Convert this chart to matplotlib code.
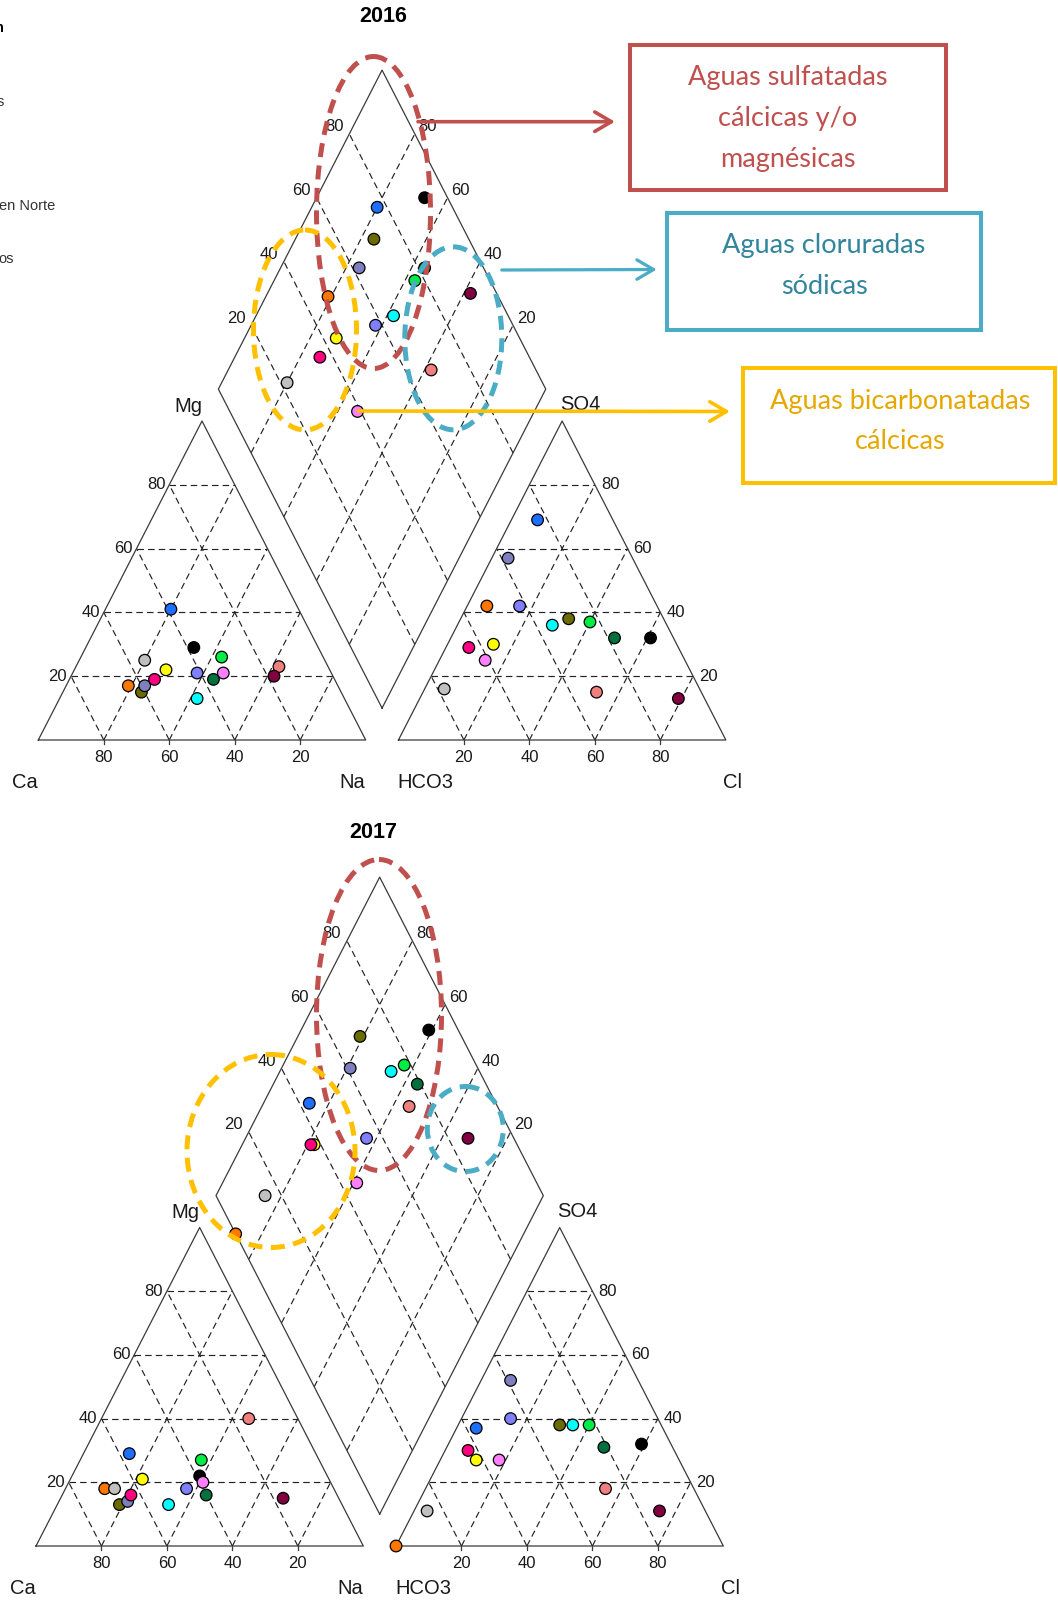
import numpy as np
import matplotlib.pyplot as plt
from matplotlib.patches import Ellipse, Rectangle

# Colores de cada punto de muestreo (mismo orden en todas las listas)
colores = ['#1e6fff', '#000000', '#6b6b00', '#7f7fbf', '#ff7700', '#00ee44', '#00703c',
           '#00ffff', '#7f7fff', '#ffff00', '#ff0080', '#f08080', '#ff80ff', '#c0c0c0', '#800040']

# 2016 - cationes (% meq)
ca_2016 = [39, 38, 61, 59, 64, 31, 37, 45, 41, 50, 55, 15, 33, 55, 18]
mg_2016 = [41, 29, 15, 17, 17, 26, 19, 13, 21, 22, 19, 23, 21, 25, 20]
na_2016 = [20, 33, 24, 24, 19, 43, 44, 42, 38, 28, 26, 62, 46, 20, 62]
# 2016 - aniones (% meq)
hco3_2016 = [23, 7, 29, 38, 52, 23, 18, 35, 42, 56, 64, 32, 61, 78, 8]
so4_2016 = [69, 32, 38, 57, 42, 37, 32, 36, 42, 30, 29, 15, 25, 16, 13]
cl_2016 = [8, 61, 33, 5, 6, 40, 50, 29, 16, 14, 7, 53, 14, 6, 79]

# 2017 - cationes (% meq)
ca_2017 = [57, 39, 68, 65, 70, 36, 40, 53, 45, 57, 63, 15, 39, 67, 17]
mg_2017 = [29, 22, 13, 14, 18, 27, 16, 13, 18, 21, 16, 40, 20, 18, 15]
na_2017 = [14, 39, 19, 21, 12, 37, 44, 34, 37, 22, 21, 45, 41, 15, 68]
# 2017 - aniones (% meq)
hco3_2017 = [57, 9, 31, 39, 100, 22, 21, 27, 45, 62, 63, 27, 55, 85, 14]
so4_2017 = [37, 32, 38, 52, 0, 38, 31, 38, 40, 27, 30, 18, 27, 11, 11]
cl_2017 = [6, 59, 31, 9, 0, 40, 48, 35, 15, 11, 7, 55, 18, 4, 75]

valores_eje = [20, 40, 60, 80]

ROJO, AZUL, AMARILLO = '#c0504d', '#4bacc6', '#ffc000'
TXT = '#1a1a1a'
FUENTE = 'Liberation Sans'

fig = plt.figure(figsize=(10.58, 16.02), dpi=100)
ax = fig.add_axes([0, 0, 1, 1])
ax.set_xlim(0, 1058)
ax.set_ylim(1602, 0)
ax.axis('off')

GAP = 0.1


def a_px(d, u, v):
    return d['x0'] + np.asarray(u) * d['W'], d['yb'] - np.asarray(v) * d['H']


def linea(d, p, q, **kw):
    x, y = a_px(d, [p[0], q[0]], [p[1], q[1]])
    ax.plot(x, y, **kw)


def piper(d, ca, mg, na, hco3, so4, cl, titulo, pos_titulo):
    borde = dict(color='#3a3a3a', lw=0.9, zorder=2)
    rejilla = dict(color='#222222', lw=0.85, ls=(0, (5.5, 3.5)), zorder=1)
    a0, a1 = 1 + GAP, 2 + GAP
    mid = 1 + GAP / 2
    fs = 12

    # contornos: triangulo de cationes, de aniones y rombo
    for poly in ([(0, 0), (1, 0), (0.5, 1), (0, 0)],
                 [(a0, 0), (a1, 0), (a0 + 0.5, 1), (a0, 0)],
                 [(mid, GAP), (mid + 0.5, 1 + GAP), (mid, 2 + GAP), (mid - 0.5, 1 + GAP), (mid, GAP)]):
        u, v = zip(*poly)
        x, y = a_px(d, u, v)
        ax.plot(x, y, **borde)

    # rejilla cada 20 %
    for val in valores_eje:
        k = val / 100
        segs = [((k / 2, k), (1 - k / 2, k)),
                ((k, 0), (k + (1 - k) / 2, 1 - k)),
                ((1 - k, 0), ((1 - k) / 2, 1 - k)),
                ((a0 + k / 2, k), (a1 - k / 2, k)),
                ((a0 + k, 0), (a0 + k + (1 - k) / 2, 1 - k)),
                ((a1 - k, 0), (a0 + (1 - k) / 2, 1 - k)),
                ((mid + 0.5 * k, GAP + k), (mid - 0.5 + 0.5 * k, 1 + GAP + k)),
                ((mid - 0.5 * k, GAP + k), (mid + 0.5 - 0.5 * k, 1 + GAP + k))]
        for p, q in segs:
            linea(d, p, q, **rejilla)

        # marcas y etiquetas de los ejes
        for u, txt in ((1 - k, val), (a0 + k, val)):
            x, y = a_px(d, u, 0)
            ax.plot([x, x], [y, y + 4], **borde)
            ax.text(x, y + 17, str(txt), ha='center', va='center', fontsize=fs,
                    color=TXT, family=FUENTE)
        x, y = a_px(d, k / 2, k)
        ax.text(x - 4, y, str(val), ha='right', va='center', fontsize=fs, color=TXT, family=FUENTE)
        x, y = a_px(d, a1 - k / 2, k)
        ax.text(x + 6, y, str(val), ha='left', va='center', fontsize=fs, color=TXT, family=FUENTE)
        x, y = a_px(d, mid - 0.5 + 0.5 * k, 1 + GAP + k)
        ax.text(x - 15, y - 7, str(val), ha='center', va='center', fontsize=fs,
                color=TXT, family=FUENTE)
        x, y = a_px(d, mid + 0.5 - 0.5 * k, 1 + GAP + k)
        ax.text(x + 13, y - 7, str(val), ha='center', va='center', fontsize=fs,
                color=TXT, family=FUENTE)

    # nombres de los vertices
    vert = [((0, 0), (-13, 43), 'Ca'), ((1, 0), (-13, 43), 'Na'), ((0.5, 1), (-14, -15), 'Mg'),
            ((a0, 0), (27, 43), 'HCO3'), ((a1, 0), (7, 43), 'Cl'), ((a0 + 0.5, 1), (18, -16), 'SO4')]
    for (u, v), (dx, dy), txt in vert:
        x, y = a_px(d, u, v)
        ax.text(x + dx, y + dy, txt, ha='center', va='center', fontsize=14.5, color=TXT, family=FUENTE)

    # posiciones de las muestras
    ca, mg, na = (np.array(a, float) for a in (ca, mg, na))
    hco3, so4, cl = (np.array(a, float) for a in (hco3, so4, cl))
    sc = ca + mg + na
    sa = hco3 + so4 + cl
    uc, vc = na / sc + mg / sc / 2, mg / sc
    ua, va = a0 + cl / sa + so4 / sa / 2, so4 / sa
    t = (2 * (ua - uc) + (va - vc)) / 2
    ud, vd = uc + t / 2, vc + t
    for u, v in ((uc, vc), (ua, va), (ud, vd)):
        x, y = a_px(d, u, v)
        ax.scatter(x, y, s=70, c=colores, edgecolors='black', linewidths=0.9, zorder=3)

    ax.text(pos_titulo[0], pos_titulo[1], titulo, ha='center', va='center', fontsize=15.5,
            fontweight='bold', color='black', family=FUENTE)


g2016 = dict(x0=38.3, yb=740, W=327.4, H=319)
g2017 = dict(x0=36, yb=1546, W=327.3, H=318.5)

piper(g2016, ca_2016, mg_2016, na_2016, hco3_2016, so4_2016, cl_2016, '2016', (383, 17))
piper(g2017, ca_2017, mg_2017, na_2017, hco3_2017, so4_2017, cl_2017, '2017', (373, 832))

# restos de la leyenda recortada en el borde izquierdo
ax.text(-5, 28, 'n', ha='left', va='center', fontsize=10.5, fontweight='bold', color='black', family=FUENTE)
for y, txt, x in ((102, 's', -3), (206, 'en Norte', -1), (259, 'os', -2)):
    ax.text(x, y, txt, ha='left', va='center', fontsize=10.5, color='#333333', family=FUENTE)

# zonas marcadas con elipses discontinuas
elipses = [((373.5, 212.5), 114, 312, ROJO), ((305, 330), 103, 200, AMARILLO),
           ((453.3, 338.3), 97, 183, AZUL),
           ((379, 1015), 125, 311, ROJO), ((271, 1151), 168, 193, AMARILLO),
           ((465.3, 1129), 76, 85, AZUL)]
for c, w, h, col in elipses:
    ax.add_patch(Ellipse(c, w, h, fill=False, ec=col, lw=3.6, ls=(0, (2.8, 1.7)), zorder=4))

# flechas hacia los recuadros
flechas = [((418, 121.7), (615, 121.7), ROJO, 2.6), ((501.7, 270), (656.7, 269.5), AZUL, 2.3),
           ((358.3, 411), (730, 411.5), AMARILLO, 2.6)]
for ini, fin, col, lw in flechas:
    ax.annotate('', xy=fin, xytext=ini,
                arrowprops=dict(arrowstyle='->,head_length=0.6,head_width=0.35', color=col, lw=lw,
                                mutation_scale=20, shrinkA=0, shrinkB=0), zorder=5)

# recuadros de texto
cajas = [((630, 45), 315.7, 145, ROJO, '#c0504d', ['Aguas sulfatadas', 'cálcicas y/o', 'magnésicas'],
          787.7, 78),
         ((666.7, 213.3), 314.3, 116.7, AZUL, '#31859c', ['Aguas cloruradas', 'sódicas'], 824, 246),
         ((743.3, 368.3), 311.7, 115, AMARILLO, '#e6a800', ['Aguas bicarbonatadas', 'cálcicas'], 900, 401)]
for xy, w, h, col, col_txt, lineas, xc, y0 in cajas:
    ax.add_patch(Rectangle(xy, w, h, fill=False, ec=col, lw=2.9, zorder=5))
    for i, txt in enumerate(lineas):
        ax.text(xc, y0 + i * 40.8, txt, ha='center', va='center', fontsize=19.5,
                color=col_txt, family='Lato')

fig.savefig('out.png', dpi=100)
